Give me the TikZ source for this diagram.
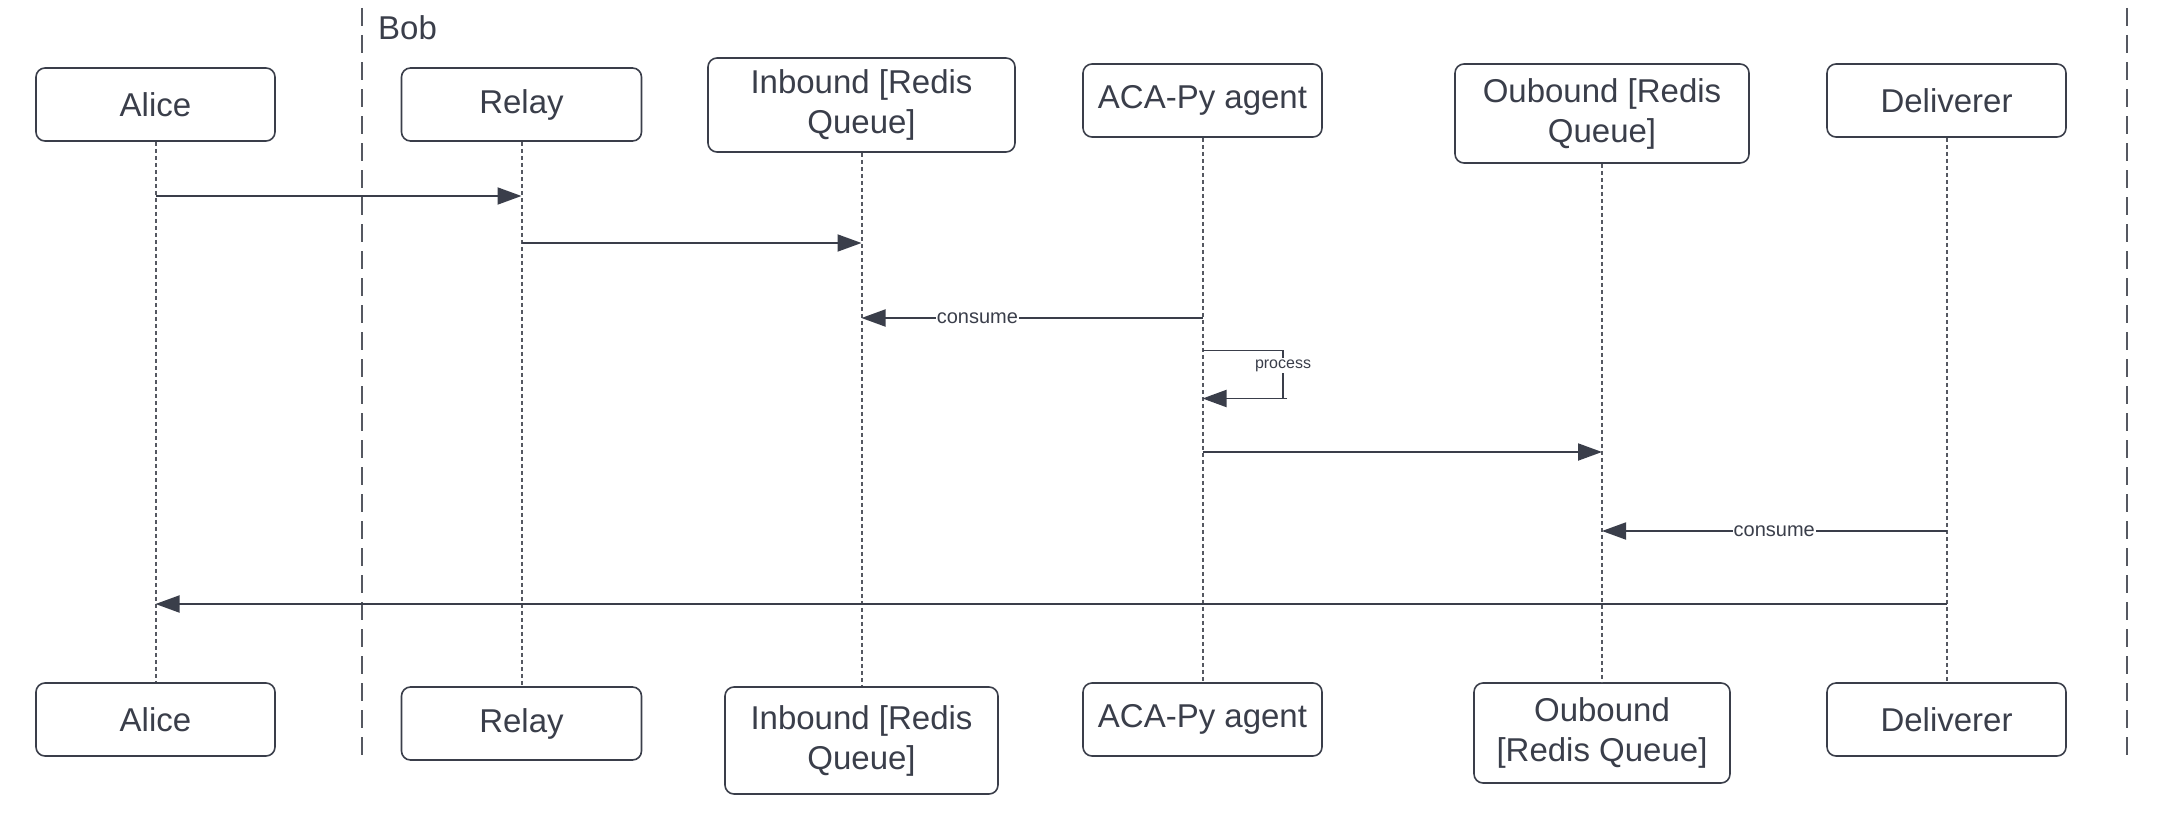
\documentclass[tikz,border=0pt]{standalone}
\usepackage{fontspec}
\setmainfont{Liberation Sans}
\usetikzlibrary{arrows.meta,calc}
\definecolor{ink}{HTML}{3A3E4A}
\definecolor{lgray}{HTML}{555861}
\begin{document}
\begin{tikzpicture}[x=1bp,y=-1bp,
  box/.style={draw=ink, line width=1.6bp, rounded corners=9bp, text=ink,
    font=\fontsize{33bp}{40bp}\selectfont, align=center, inner sep=0pt},
  lifeline/.style={draw=lgray, line width=2bp, dash pattern=on 4bp off 3bp},
  boundary/.style={draw=lgray, line width=1.8bp, dash pattern=on 18bp off 9bp},
  line/.style={draw=ink, line width=1.9bp},
  msg/.style={line, -{Triangle[length=24bp,width=17bp]}},
  lbl/.style={fill=white, text=ink, inner sep=1bp, font=\fontsize{20bp}{24bp}\selectfont},
  slbl/.style={fill=white, text=ink, inner sep=1.5bp, font=\fontsize{16bp}{19bp}\selectfont}]
\useasboundingbox (0,0) rectangle (2168,812);

% boundary of Bob
\coordinate (bt) at (362,8); \coordinate (bb) at (362,758);
\coordinate (rt) at (2127,8); \coordinate (rb) at (2127,760);
\draw[boundary] (bt) -- (bb);
\draw[boundary] (rt) -- (rb);
\node[text=ink, anchor=west, inner sep=0pt, font=\fontsize{33bp}{40bp}\selectfont] (bob) at (378,28) {Bob};

% top participants
\node[box, minimum width=239bp, minimum height=73bp] (aliceT) at (155.5,104.5) {Alice};
\node[box, minimum width=240bp, minimum height=73bp] (relayT) at (521.5,104.5) {Relay};
\node[box, minimum width=307bp, minimum height=94bp] (inT) at (861.5,105) {Inbound [Redis\\Queue]};
\node[box, minimum width=239bp, minimum height=73bp] (acaT) at (1202.5,100.5) {ACA-Py agent};
\node[box, minimum width=294bp, minimum height=99bp] (outT) at (1602,113.5) {Oubound [Redis\\Queue]};
\node[box, minimum width=239bp, minimum height=73bp] (delT) at (1946.5,100.5) {Deliverer};

% bottom participants
\node[box, minimum width=239bp, minimum height=73bp] (aliceB) at (155.5,719.5) {Alice};
\node[box, minimum width=240bp, minimum height=73bp] (relayB) at (521.5,723.5) {Relay};
\node[box, minimum width=273bp, minimum height=107bp] (inB) at (861.5,740.5) {Inbound [Redis\\Queue]};
\node[box, minimum width=239bp, minimum height=73bp] (acaB) at (1202.5,719.5) {ACA-Py agent};
\node[box, minimum width=256bp, minimum height=100bp] (outB) at (1602,733) {Oubound\\{}[Redis Queue]};
\node[box, minimum width=239bp, minimum height=73bp] (delB) at (1946.5,719.5) {Deliverer};

% lifelines
\draw[lifeline] (aliceT.south) -- (aliceB.north);
\draw[lifeline] (relayT.south) -- (relayB.north);
\draw[lifeline] (inT.south) -- (inB.north);
\draw[lifeline] (acaT.south) -- (acaB.north);
\draw[lifeline] (outT.south) -- (outB.north);
\draw[lifeline] (delT.south) -- (delB.north);

% message levels
\coordinate (y1) at (0,196);
\coordinate (y2) at (0,243);
\coordinate (y3) at (0,318);
\coordinate (y5) at (0,452);
\coordinate (y6) at (0,531);
\coordinate (y7) at (0,604);

\draw[msg] (aliceT |- y1) -- (relayT |- y1);
\draw[msg] (relayT |- y2) -- (inT |- y2);
\draw[msg] (acaT |- y3) -- node[lbl, pos=0.66] {consume} (inT |- y3);

% self message
\coordinate (p1) at (1283,350.5);
\coordinate (p2) at (1283,398.5);
\coordinate (p3) at (1287,398.5);
\draw[line] (acaT |- p1) -- (p1) -- node[slbl, pos=0.31] {process} (p2);
\draw[msg] (p3) -- (acaT |- p3);

\draw[msg] (acaT |- y5) -- (outT |- y5);
\draw[msg] (delT |- y6) -- node[lbl, pos=0.5] {consume} (outT |- y6);
\draw[msg] (delT |- y7) -- (aliceT |- y7);
\end{tikzpicture}
\end{document}
